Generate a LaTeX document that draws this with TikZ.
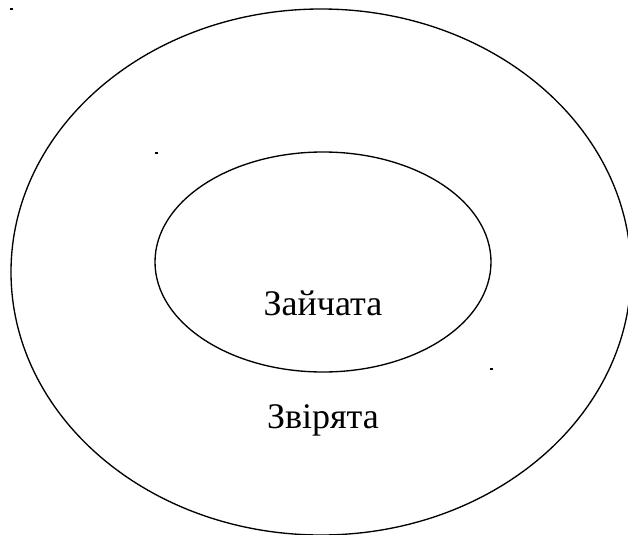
\documentclass[tikz,border=0pt]{standalone}
\usepackage{fontspec}
\setmainfont{Liberation Serif}
\usepackage{tikz}
\tikzset{
  setline/.style={draw=black, line width=1pt},
  setlabel/.style={anchor=base, font=\fontsize{27}{30}\selectfont, inner sep=0pt},
  speck/.style={fill=black, draw=none},
}

\begin{document}
\begin{tikzpicture}[x=0.75pt, y=-0.75pt]
  % --- frame ---
  \useasboundingbox (0,0) rectangle (628,535);
  \clip (0,0) rectangle (628,535);

  % --- sets ---
  \draw[setline] (321,272) ellipse [x radius=310, y radius=263];
  \draw[setline] (323,262) ellipse [x radius=168, y radius=110];

  % --- labels ---
  \node[setlabel] (zaichata) at (323,315) {Зайчата};
  \node[setlabel] (zviriata) at (323,428) {Звірята};

  % --- stray marks ---
  \fill[speck] (10,8) rectangle (12.5,10);
  \fill[speck] (155,152) rectangle (157.5,154);
  \fill[speck] (490,368) rectangle (492.5,370);
\end{tikzpicture}
\end{document}
